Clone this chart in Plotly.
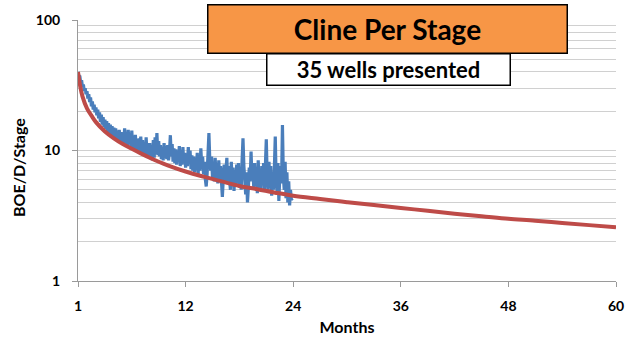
import plotly.graph_objects as go

# Axis positions (tick slots) and their month labels
tick_pos = [0, 12, 24, 36, 48, 60]
tick_labels = ["1", "12", "24", "36", "48", "60"]

# Type curve: BOE/D per stage by month position
type_months = [0, 0.25, 0.5, 1, 1.5, 2, 3, 4, 5, 6, 7, 8, 9, 10, 12, 14, 16, 18,
               20, 22, 24, 27, 30, 33, 36, 39, 42, 45, 48, 51, 54, 57, 60]
type_rate = [40, 31, 26, 21, 18.5, 16.5, 14, 12.4, 11.2, 10.3, 9.5, 8.8, 8.2, 7.7,
             6.9, 6.3, 5.8, 5.35, 5.05, 4.75, 4.5, 4.25, 4.02, 3.82, 3.63, 3.45,
             3.28, 3.14, 3.0, 2.9, 2.78, 2.68, 2.58]

# Actual production, averaged over 35 wells, sampled every 0.1 months
actual_months = [round(i * 0.1, 1) for i in range(240)]
actual_rate = [
    40, 37, 37.5, 33, 34.5, 30.5, 32, 28.5, 30, 27,
    28.5, 25, 27, 23.5, 25.5, 21.8, 23.8, 20.6, 22.4, 19.6,
    21.4, 18.6, 20.6, 17.6, 19.6, 16.6, 18.8, 15.8, 18, 15.2,
    17.2, 14.6, 16.8, 13.8, 16.2, 13.4, 15.8, 13, 15.4, 12.8,
    15, 12.4, 14.8, 12, 14.2, 11.8, 14.4, 11.6, 13.8, 11.8,
    13.8, 11.2, 14.8, 11.4, 13.6, 10.8, 14.4, 11.2, 13.4, 10.6,
    14.2, 10.4, 13, 10.2, 13.2, 9.8, 12.2, 9.6, 12.4, 9.8,
    12.8, 9.6, 12, 9.2, 11.6, 9, 12.6, 9.2, 11.4, 8.8,
    11.4, 8.6, 10.8, 8.4, 12, 8.8, 12.6, 9.4, 13.6, 9.2,
    11.8, 9, 11, 8.6, 10.6, 8.4, 11.4, 8.8, 10.8, 8.6,
    11, 8.4, 9.8, 13.1, 9, 11.2, 8.2, 10.4, 8, 10.2,
    7.8, 10, 8.2, 10.8, 7.6, 9.8, 7.8, 10.6, 8, 9.6,
    7.4, 9.4, 7.6, 10.6, 8, 10, 7.2, 9.2, 7, 9,
    6.8, 8.8, 7.2, 9.6, 6.6, 9.2, 7, 10.4, 7.6, 9,
    6.6, 8.2, 6, 5.3, 6.6, 9.8, 13.6, 8.4, 7, 9,
    6.2, 8.2, 5.8, 8.8, 6, 8, 5.6, 8.4, 5.8, 7.6,
    5.2, 4.4, 6, 7.8, 5.6, 7.2, 8.8, 5.8, 7.6, 6,
    5, 8.2, 5.4, 7.4, 4.9, 7, 5.4, 7.8, 5.6, 8,
    5.2, 7.2, 5, 8.4, 12.4, 7.6, 5.4, 4.6, 6.8, 4.0,
    5.2, 7.4, 5.8, 9.8, 6, 7.6, 5.2, 8, 5.4, 7.4,
    4.7, 8.4, 5.2, 7.2, 5, 7.6, 5.6, 8, 4.9, 6.8,
    12.2, 6.2, 5, 8.2, 5.2, 7.6, 4.5, 6.8, 5, 7.4,
    12.8, 5.8, 4.9, 8, 4.1, 6.2, 7.6, 5.6, 15.7, 6.4,
    5, 8.2, 4.3, 6.8, 4, 5.8, 3.8, 5, 4.2, 4.3,
]

FONT = "Lato"
GRID = "#d0d0d0"
AXIS = "#9a9a9a"

fig = go.Figure()
fig.add_trace(go.Scatter(x=actual_months, y=actual_rate, mode="lines",
                         line=dict(color="#4a7ebb", width=3.2)))
fig.add_trace(go.Scatter(x=type_months, y=type_rate, mode="lines",
                         line=dict(color="#be4b48", width=4, shape="spline")))

fig.update_layout(
    width=632, height=340,
    margin=dict(l=78, r=16, t=20, b=59),
    paper_bgcolor="white", plot_bgcolor="white",
    showlegend=False,
    font=dict(family=FONT, color="black"),
)

fig.update_xaxes(
    range=[0, 60], tickvals=tick_pos, ticktext=tick_labels,
    showgrid=False, zeroline=False, automargin=False,
    showline=True, linecolor=AXIS, linewidth=1,
    ticks="outside", ticklen=5, tickcolor=AXIS, ticklabelstandoff=7,
    tickfont=dict(family=FONT, size=14, color="black", weight="bold"),
    title=dict(text="Months", font=dict(family=FONT, size=16, color="black", weight="bold"),
               standoff=9),
)

fig.update_yaxes(
    type="log", range=[0, 2], tickvals=[1, 10, 100], ticktext=["1", "10", "100"],
    showgrid=True, gridcolor=GRID, gridwidth=1, zeroline=False, automargin=False,
    showline=True, linecolor=AXIS, linewidth=1,
    ticks="outside", ticklen=5, tickcolor=AXIS, ticklabelstandoff=9,
    tickfont=dict(family=FONT, size=14, color="black", weight="bold"),
    minor=dict(dtick="D1", showgrid=True, gridcolor=GRID, ticks=""),
)

# Rotated axis title
fig.add_annotation(
    text="BOE/D/Stage", textangle=-90, showarrow=False,
    xref="paper", yref="paper", x=0, y=(281 - 168) / 261,
    xanchor="center", yanchor="middle", xshift=-60,
    font=dict(family=FONT, size=16, color="black", weight="bold"),
)

# Subtitle box, then the title box drawn over its top edge
fig.add_annotation(
    text="35 wells presented", showarrow=False,
    xref="paper", yref="paper", x=(266 - 78) / 538, y=(281 - 53) / 261,
    xanchor="left", yanchor="top", width=242, height=30,
    bgcolor="white", bordercolor="black", borderwidth=1.5, borderpad=0,
    font=dict(family=FONT, size=22, color="black", weight="bold"),
)
fig.add_annotation(
    text="Cline Per Stage", showarrow=False,
    xref="paper", yref="paper", x=(207 - 78) / 538, y=(281 - 4) / 261,
    xanchor="left", yanchor="top", width=358, height=47,
    bgcolor="#f79646", bordercolor="black", borderwidth=1.5, borderpad=0,
    font=dict(family=FONT, size=28, color="black", weight="bold"),
)

fig.write_html("out.html")
